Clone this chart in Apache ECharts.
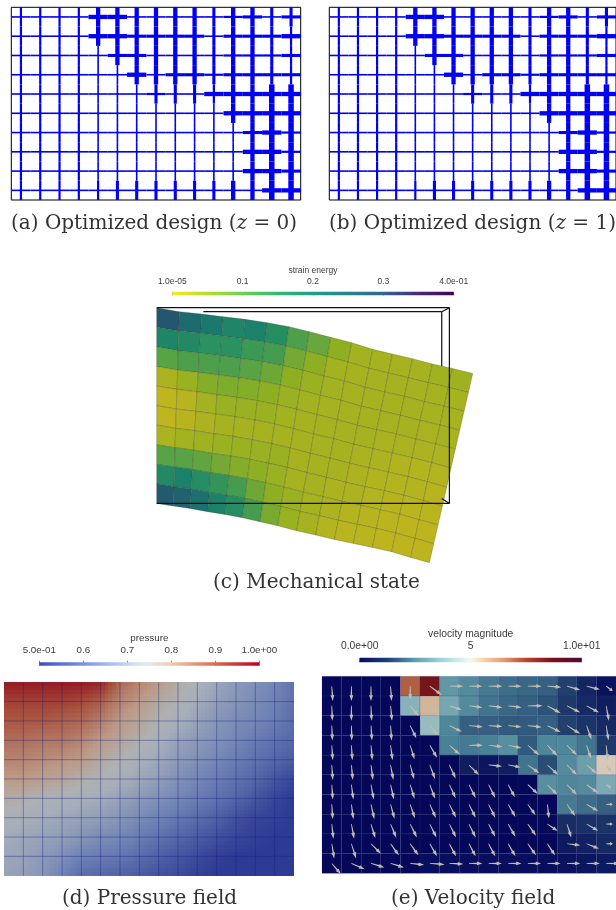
<!DOCTYPE html>
<html><head><meta charset="utf-8">
<style>html,body{margin:0;padding:0;background:#fff}#c{width:616px;height:910px}#c canvas{filter:blur(.45px)}</style>
<script src="https://cdn.jsdelivr.net/npm/echarts@6/dist/echarts.min.js"></script>
</head><body><div id="c"></div>
<script>
// ---- (a)/(b) member thickness levels per cell, rows top to bottom
const designHorizontal = [
 [1,1,1,1,4,4,1,1,1,1,1,2,3,1,3],
 [1,1,1,1,4,4,3,3,3,3,1,3,3,3,4],
 [1,1,1,1,1,3,3,1,1,1,1,2,2,2,3],
 [1,1,1,1,1,1,4,1,3,3,2,3,3,3,3],
 [1,1,1,1,1,1,1,2,1,1,4,4,4,4,4],
 [1,1,1,1,1,1,1,1,1,1,1,4,4,4,4],
 [1,1,1,1,1,1,1,1,1,1,1,1,3,4,2],
 [1,1,1,1,1,1,1,1,1,1,1,1,4,4,2],
 [1,1,1,1,1,1,1,1,1,1,1,1,4,4,3],
 [1,1,1,1,1,1,1,1,1,1,1,1,1,4,4]];
const designVertical = [
 [2,2,2,2,4,4,4,4,4,4,3,4,4,3,3],
 [2,2,2,2,4,4,4,4,4,4,3,4,4,3,2],
 [2,2,2,2,1,4,4,4,4,4,3,4,4,3,2],
 [2,2,2,2,1,1,4,4,4,4,3,4,4,3,2],
 [2,2,2,2,1,1,1,3,3,3,2,4,4,5,5],
 [2,2,2,2,1,1,1,1,1,1,1,4,4,5,5],
 [2,2,2,2,1,1,1,1,1,1,1,1,4,5,5],
 [2,2,2,2,1,1,1,1,1,1,1,1,4,5,5],
 [2,2,2,2,1,1,1,1,1,1,1,1,4,5,5],
 [2,2,2,2,2,3,3,3,3,3,3,4,4,5,5]];
const levelWidth = [0,1.6,2.2,3.1,4.3,5.5];

// ---- (c) deformed mesh nodes
const meshX = [
 [50,118,185,250,315,382,447,508,572,635,698,757,817,877,937,998],
 [50,116,182,245,309,375,438,499,562,624,687,745,805,865,925,985],
 [50,114,178,241,303,367,430,489,552,613,675,734,793,853,912,972],
 [50,113,175,236,297,360,421,480,541,603,664,722,781,840,900,959],
 [50,111,171,231,291,352,412,470,531,592,652,710,769,828,887,946],
 [50,109,168,227,285,345,404,461,521,581,641,699,757,816,875,933],
 [50,107,164,222,279,337,395,451,511,570,629,687,745,804,862,920],
 [50,105,161,217,273,330,386,442,501,559,618,675,733,792,850,907],
 [50,104,157,212,267,322,377,432,490,549,606,663,721,779,837,894],
 [50,102,154,208,261,315,369,423,480,538,595,652,709,767,825,881],
 [50,100,150,203,255,307,360,413,470,527,583,640,697,755,812,868]];
const meshY = [
 [143,155,162,170,178,188,200,215,232,248,268,282,296,312,325,340],
 [202,213,220,228,236,246,258,273,290,306,325,339,353,368,382,397],
 [260,272,279,287,295,305,317,331,348,363,382,396,409,425,438,454],
 [319,330,337,345,353,363,375,390,406,421,439,452,466,481,495,510],
 [378,388,395,404,412,422,434,448,464,479,496,509,522,537,552,567],
 [437,447,454,462,470,480,492,506,522,536,553,566,579,593,608,624],
 [495,505,512,521,529,539,551,564,580,594,610,623,636,650,665,681],
 [554,563,570,580,588,598,610,622,638,652,667,680,692,706,722,738],
 [613,621,628,638,646,656,668,681,696,710,724,736,749,762,779,794],
 [671,680,687,697,705,715,727,739,754,767,781,793,805,819,835,851],
 [730,738,745,755,763,773,785,797,812,825,838,850,862,875,892,908]];
const strainEnergy = [
 [.29,.24,.21,.18,.19,.16,.11,.085,.05,.032,.03,.03,.03,.034,.036],
 [.18,.17,.15,.15,.13,.12,.075,.05,.032,.03,.03,.03,.03,.03,.03],
 [.10,.11,.11,.11,.10,.08,.05,.04,.032,.03,.03,.03,.03,.03,.03],
 [.025,.04,.06,.065,.06,.05,.04,.032,.03,.03,.03,.03,.03,.027,.03],
 [.008,.016,.032,.04,.04,.04,.032,.03,.03,.03,.03,.027,.027,.024,.024],
 [.008,.014,.024,.03,.03,.03,.03,.03,.03,.03,.027,.024,.02,.018,.018],
 [.025,.032,.034,.04,.04,.04,.04,.03,.03,.03,.024,.02,.018,.018,.014],
 [.10,.10,.09,.075,.06,.05,.04,.03,.03,.024,.024,.018,.014,.012,.012],
 [.17,.19,.16,.14,.12,.08,.05,.04,.03,.024,.018,.014,.012,.009,.009],
 [.28,.26,.23,.19,.16,.12,.07,.04,.03,.018,.012,.012,.009,.009,.009]];
const boxBackEdges = [[190,155,905,155],[905,155,905,320],[905,155,928,143]];
const boxFrontEdges = [[50,143,928,143],[928,143,928,730],[50,730,928,730],[905,715,928,730]];
const strainTicks = ['1.0e-05','0.1','0.2','0.3','4.0e-01'];

// ---- (d) pressure at mesh nodes
const pressure = [
 [.97,.97,.97,.97,.97,.96,.87,.83,.80,.77,.74,.71,.68,.66,.64,.60],
 [.92,.92,.92,.92,.91,.88,.83,.80,.77,.75,.72,.69,.67,.65,.63,.60],
 [.89,.89,.89,.88,.87,.84,.80,.78,.75,.73,.70,.67,.65,.64,.62,.59],
 [.86,.86,.85,.85,.83,.80,.78,.76,.73,.70,.68,.66,.64,.62,.60,.58],
 [.83,.83,.82,.81,.80,.77,.75,.73,.71,.68,.66,.64,.62,.60,.58,.56],
 [.80,.80,.79,.78,.76,.75,.73,.71,.69,.66,.64,.62,.60,.58,.55,.52],
 [.77,.76,.75,.74,.73,.72,.70,.68,.66,.64,.62,.60,.58,.55,.52,.50],
 [.74,.73,.72,.71,.70,.69,.67,.65,.63,.61,.59,.57,.54,.52,.51,.50],
 [.72,.71,.70,.69,.67,.65,.64,.62,.60,.58,.56,.54,.52,.51,.50,.50],
 [.71,.70,.68,.66,.63,.62,.61,.59,.57,.55,.53,.51,.50,.50,.50,.50],
 [.70,.69,.67,.63,.59,.58,.57,.56,.54,.53,.51,.50,.50,.50,.50,.50]];
const pressureTicks = ['5.0e-01','0.6','0.7','0.8','0.9','1.0e+00'];

// ---- (e) velocity magnitude per cell and arrow vectors (hundredths of a cell)
const velocity = [
 [0,0,0,0,7,8.4,2.9,2.6,2.3,2.1,2,1.9,1.4,.8,.3],
 [0,0,0,0,3.6,5.6,3.3,2.6,2.2,2,1.9,1.7,1.3,.9,.6],
 [0,0,0,0,0,3.9,2.5,1.9,1.9,1.8,1.8,1.9,1.4,1.2,.9],
 [0,0,0,0,0,0,2.4,2.3,2.4,2.7,1.8,2.5,2.5,2.2,1.3],
 [0,0,0,0,0,0,0,.6,.4,.6,2.2,1.6,2.6,3.1,5.2],
 [0,0,0,0,0,0,0,0,0,0,0,2.7,2.5,2.6,3.4],
 [0,0,0,0,0,0,0,0,0,0,0,0,2.3,2.1,1.9],
 [0,0,0,0,0,0,0,0,0,0,0,.05,1,1.1,1.2],
 [0,0,0,0,0,0,0,0,0,0,0,0,.5,.7,.9],
 [0,0,0,0,0,.2,.2,.2,.2,.2,.2,.2,.3,.4,.5]];
const arrowU = [
 [5,0,0,5,0,62,71,68,71,68,71,71,68,68,34],
 [3,0,3,7,42,47,64,68,71,68,76,68,68,64,14],
 [3,2,5,5,31,46,64,71,71,68,71,68,68,25,12],
 [5,5,7,10,22,37,53,71,71,68,59,51,51,22,8],
 [5,7,10,14,20,27,32,51,68,63,59,56,51,51,25],
 [5,10,14,17,22,27,32,34,34,34,51,51,51,59,25],
 [5,10,17,20,24,31,34,34,34,37,39,8,42,59,34],
 [8,14,22,29,34,34,34,34,34,37,42,51,22,59,34],
 [12,24,51,42,42,37,34,34,34,37,42,39,68,63,34],
 [46,68,68,68,71,76,71,68,68,68,68,68,68,68,68]];
const arrowV = [
 [76,76,76,76,68,46,0,0,0,0,0,5,20,17,25],
 [76,76,76,76,51,51,20,8,8,8,0,37,34,34,76],
 [76,76,76,76,64,51,32,7,5,7,8,34,42,71,76],
 [76,76,76,76,71,63,47,0,8,14,51,54,51,68,76],
 [76,76,76,76,73,71,69,51,7,12,42,51,51,42,34],
 [76,75,75,75,71,71,69,68,68,64,47,51,51,42,17],
 [76,75,75,73,71,69,68,68,68,64,54,71,59,34,0],
 [75,75,71,69,68,68,68,68,64,64,59,34,68,34,0],
 [75,75,51,59,59,64,64,64,64,64,59,59,8,25,0],
 [54,29,20,20,7,5,3,0,0,0,0,0,0,0,0]];
const velocityTicks = ['0.0e+00','5','1.0e+01'];

// ---- colormaps
const viridisStops = [[0,'#fde725'],[.125,'#b5de2b'],[.25,'#6ece58'],[.375,'#35b779'],[.5,'#1f9e89'],[.625,'#26828e'],[.75,'#31688e'],[.875,'#482878'],[1,'#440154']];
const coolwarmStops = [[0,'#3b4cc0'],[.25,'#8ca6ea'],[.45,'#d8e2f2'],[.5,'#e2e6e8'],[.6,'#f3c9b0'],[.8,'#d9694f'],[1,'#b40426']];
const velocityStops = [[0,'#060868'],[.125,'#203f78'],[.25,'#5a9db2'],[.375,'#a6d6dc'],[.48,'#e6f5f3'],[.5,'#faf5e8'],[.55,'#f6d9b8'],[.65,'#e29a70'],[.75,'#b8442f'],[.87,'#7a0c1a'],[1,'#4e0a3e']];

function hex(c){return [1,3,5].map(i=>parseInt(c.substr(i,2),16));}
function mapColor(stops,t,shade){
  t=Math.max(0,Math.min(1,t));
  let i=0; while(i<stops.length-2&&t>stops[i+1][0]) i++;
  const a=stops[i],b=stops[i+1],f=(t-a[0])/(b[0]-a[0]),A=hex(a[1]),B=hex(b[1]);
  const s=shade||1;
  return 'rgb('+A.map((v,k)=>Math.round((v+(B[k]-v)*f)*s)).join(',')+')';
}
const grids=[
 {left:11.3,top:7.3,width:289.4,height:192.7,show:true,borderColor:'#000',borderWidth:1,backgroundColor:'#fff'},
 {left:329.3,top:7.3,width:289.4,height:192.7,show:true,borderColor:'#000',borderWidth:1,backgroundColor:'#fff'},
 {left:156.7,top:307.7,width:292.7,height:195.7},
 {left:4,top:682.3,width:290,height:193.4},
 {left:322,top:676.3,width:297,height:197},
 {left:172.3,top:291.7,width:281.4,height:3.6},
 {left:39.3,top:662.3,width:220,height:3.4},
 {left:359.7,top:657.7,width:222,height:4.6}];
const hiddenX=(i,min,max)=>({type:'value',gridIndex:i,min,max,show:false});
const hiddenY=(i,min,max,inv)=>({type:'value',gridIndex:i,min,max,show:false,inverse:!!inv});
const barFont={fontFamily:'Liberation Sans',color:'#3a3a3a'};
const barAxis=(i,min,max,interval,labels,name,fs,margin,gap,tick)=>({type:'value',gridIndex:i,min,max,interval,position:'top',
  name,nameLocation:'middle',nameGap:gap,nameTextStyle:{...barFont,fontSize:fs},
  axisLine:{show:false},splitLine:{show:false},axisTick:{show:true,length:tick,lineStyle:{color:'#666',width:.8}},
  axisLabel:{show:true,margin,fontSize:fs,...barFont,formatter:(v,idx)=>labels[idx]}});
const xAxes=[hiddenX(0,0,15),hiddenX(1,0,15),hiddenX(2,50,928),hiddenX(3,0,15),hiddenX(4,0,15),
  barAxis(5,0,.4,.1,strainTicks,'strain energy',8.5,6,17,3),
  barAxis(6,.5,1,.1,pressureTicks,'pressure',9.8,7,19,5),
  barAxis(7,0,10,5,velocityTicks,'velocity magnitude',10.3,7,19,4)];
const yAxes=[hiddenY(0,0,10,1),hiddenY(1,0,10,1),hiddenY(2,143,730,1),hiddenY(3,0,10,1),hiddenY(4,0,10,1),hiddenY(5,0,1),hiddenY(6,0,1),hiddenY(7,0,1)];

function designItems(){const d=[];designHorizontal.forEach((r,j)=>r.forEach((h,i)=>d.push([i,j,h,designVertical[j][i]])));return d;}
function renderDesign(p,api){
  const i=api.value(0),j=api.value(1),h=levelWidth[api.value(2)],v=levelWidth[api.value(3)];
  const a=api.coord([i,j+.5]),b=api.coord([i+1,j+.5]),c=api.coord([i+.5,j]),d=api.coord([i+.5,j+1]);
  const st={fill:'#0000f5'};
  return {type:'group',children:[
   {type:'rect',shape:{x:a[0],y:a[1]-h/2,width:b[0]-a[0],height:h},style:st},
   {type:'rect',shape:{x:c[0]-v/2,y:c[1],width:v,height:d[1]-c[1]},style:st}]};
}
function meshItems(){const d=[];strainEnergy.forEach((r,j)=>r.forEach((v,i)=>d.push([i,j,v])));return d;}
function renderMesh(p,api){
  const i=api.value(0),j=api.value(1),v=api.value(2);
  const pts=[[i,j],[i+1,j],[i+1,j+1],[i,j+1]].map(q=>api.coord([meshX[q[1]][q[0]],meshY[q[1]][q[0]]]));
  return {type:'polygon',shape:{points:pts},style:{fill:mapColor(viridisStops,v/.4,.79),stroke:'rgba(50,55,30,.45)',lineWidth:.55}};
}
function renderEdge(p,api){
  const a=api.coord([api.value(0),api.value(1)]),b=api.coord([api.value(2),api.value(3)]);
  return {type:'line',shape:{x1:a[0],y1:a[1],x2:b[0],y2:b[1]},style:{stroke:'#111',lineWidth:1.2}};
}
function pressureItems(){const d=[];for(let j=0;j<10;j++)for(let i=0;i<15;i++)d.push([i,j,pressure[j][i],pressure[j][i+1],pressure[j+1][i],pressure[j+1][i+1]]);return d;}
const SUB=5;
function renderPressure(p,api){
  const i=api.value(0),j=api.value(1),a=api.value(2),b=api.value(3),c=api.value(4),d=api.value(5);
  const o=api.coord([i,j]),e=api.coord([i+1,j+1]),w=(e[0]-o[0])/SUB,h=(e[1]-o[1])/SUB,ch=[];
  for(let m=0;m<SUB;m++)for(let n=0;n<SUB;n++){
    const s=(n+.5)/SUB,t=(m+.5)/SUB,val=a*(1-s)*(1-t)+b*s*(1-t)+c*(1-s)*t+d*s*t;
    const col=mapColor(coolwarmStops,(val-.5)/.5,.77);
    const x0=Math.round(o[0]+n*w),y0=Math.round(o[1]+m*h),x1=Math.round(o[0]+(n+1)*w),y1=Math.round(o[1]+(m+1)*h);
    ch.push({type:'rect',shape:{x:x0,y:y0,width:x1-x0,height:y1-y0},style:{fill:col}});
  }
  const ln='rgba(20,30,130,.42)';
  if(j>0)ch.push({type:'line',shape:{x1:o[0],y1:o[1],x2:e[0],y2:o[1]},style:{stroke:ln,lineWidth:.9},z2:5});
  if(i>0)ch.push({type:'line',shape:{x1:o[0],y1:o[1],x2:o[0],y2:e[1]},style:{stroke:ln,lineWidth:.9},z2:5});
  return {type:'group',children:ch};
}
function velocityItems(){const d=[];velocity.forEach((r,j)=>r.forEach((v,i)=>d.push([i,j,v,arrowU[j][i]/100,arrowV[j][i]/100])));return d;}
function renderCell(p,api){
  const i=api.value(0),j=api.value(1),v=api.value(2);
  const o=api.coord([i,j]),e=api.coord([i+1,j+1]);
  return {type:'rect',shape:{x:o[0],y:o[1],width:e[0]-o[0],height:e[1]-o[1]},style:{fill:mapColor(velocityStops,v/10,.86),stroke:'rgba(35,45,140,.25)',lineWidth:.7}};
}
function renderArrow(p,api){
  const i=api.value(0),j=api.value(1),u=api.value(3),v=api.value(4);
  const a=api.coord([i+.5,j+.5]),b=api.coord([i+.5+u,j+.5+v]);
  const dx=b[0]-a[0],dy=b[1]-a[1],L=Math.hypot(dx,dy)||1,nx=-dy/L,ny=dx/L,k=.6;
  const mx=a[0]+dx*k,my=a[1]+dy*k,sw=.75,hw=1.9;
  return {type:'polygon',shape:{points:[[a[0]+nx*sw*.5,a[1]+ny*sw*.5],[mx+nx*sw,my+ny*sw],[mx+nx*hw,my+ny*hw],b,[mx-nx*hw,my-ny*hw],[mx-nx*sw,my-ny*sw],[a[0]-nx*sw*.5,a[1]-ny*sw*.5]]},style:{fill:'#bfbdb1'}};
}
function barSeries(idx,min,max,stops){
  return {type:'custom',xAxisIndex:idx,yAxisIndex:idx,data:[[min,max]],silent:true,z:1,
    renderItem(p,api){
      const a=api.coord([min,0]),b=api.coord([max,1]);
      return {type:'rect',shape:{x:a[0],y:b[1],width:b[0]-a[0],height:a[1]-b[1]},
        style:{fill:new echarts.graphic.LinearGradient(0,0,1,0,stops.map(s=>({offset:s[0],color:s[1]})))}};
    }};
}
const cust=(idx,data,renderItem,z)=>({type:'custom',xAxisIndex:idx,yAxisIndex:idx,data,renderItem,silent:true,z:z||2,progressive:0,animation:false});
const serif='DejaVu Serif',capSize=20;
const rich={n:{fontFamily:serif,fontSize:capSize,color:'#333'},i:{fontFamily:serif,fontSize:capSize,fontStyle:'italic',color:'#333'}};
const cap=(left,top,text)=>({left,top,padding:0,text,textStyle:{rich,fontFamily:serif,fontSize:capSize,color:'#333',fontWeight:'normal'}});
const chart=echarts.init(document.getElementById('c'),null,{renderer:'canvas'});
chart.setOption({animation:false,backgroundColor:'#fff',
 title:[cap(11,213.5,'{n|(a) Optimized design (}{i|z}{n| = 0)}'),cap(329,213.5,'{n|(b) Optimized design (}{i|z}{n| = 1)}'),
   cap(213,573,'{n|(c) Mechanical state}'),cap(62,888.5,'{n|(d) Pressure field}'),cap(391,888.5,'{n|(e) Velocity field}')],
 grid:grids,xAxis:xAxes,yAxis:yAxes,
 series:[
  cust(0,designItems(),renderDesign),cust(1,designItems(),renderDesign),
  cust(2,boxBackEdges,renderEdge,1),cust(2,meshItems(),renderMesh,2),cust(2,boxFrontEdges,renderEdge,3),
  cust(3,pressureItems(),renderPressure),
  cust(4,velocityItems(),renderCell,2),cust(4,velocityItems(),renderArrow,3),
  barSeries(5,0,.4,viridisStops),barSeries(6,.5,1,coolwarmStops),barSeries(7,0,10,velocityStops)
 ]});
</script></body></html>
